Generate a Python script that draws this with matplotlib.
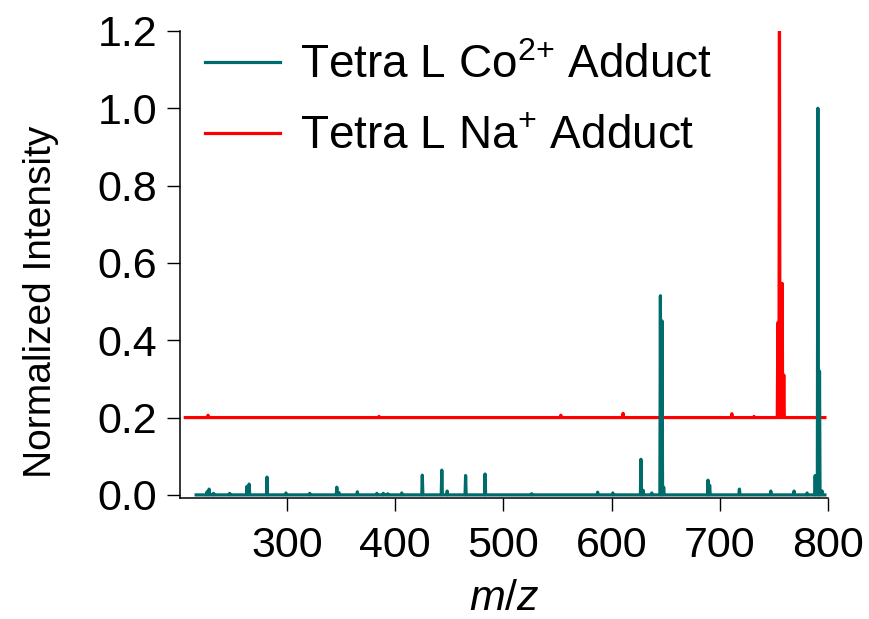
import numpy as np
import matplotlib
matplotlib.use("Agg")
import matplotlib.pyplot as plt

plt.rcParams["font.family"] = ["Liberation Sans", "DejaVu Sans"]
plt.rcParams["mathtext.fontset"] = "custom"
plt.rcParams["mathtext.rm"] = "Liberation Sans"
plt.rcParams["mathtext.it"] = "Liberation Sans:italic"

# spectrum range (m/z) for each trace
co_range = [216, 797]
na_range = [206, 797]

# Tetra L Co2+ adduct peaks (m/z, normalized intensity)
co_peak_mz = [226, 228, 232, 247, 263, 265, 281.5, 299, 321, 346, 348, 365,
              383, 389, 393, 406, 425, 443, 448, 465, 483, 526, 587, 601,
              627, 629, 637, 645, 646.5, 648, 689, 690.5, 718, 747, 768.5,
              780.5, 788, 790.5, 792, 794.5]
co_peak_int = [0.008, 0.015, 0.004, 0.004, 0.022, 0.028, 0.046, 0.005, 0.004,
               0.020, 0.006, 0.008, 0.004, 0.004, 0.003, 0.005, 0.051, 0.064,
               0.010, 0.050, 0.054, 0.003, 0.007, 0.005, 0.092, 0.012, 0.005,
               0.515, 0.45, 0.02, 0.038, 0.025, 0.015, 0.010, 0.010, 0.005,
               0.05, 1.0, 0.32, 0.01]

# Tetra L Na+ adduct peaks (plotted with a 0.2 offset)
na_offset = 0.2
na_peak_mz = [227, 385, 553, 610.5, 711, 731.5, 753.5, 755, 757.5, 759]
na_peak_int = [0.006, 0.003, 0.006, 0.011, 0.010, 0.003, 0.245, 1.0, 0.347,
               0.11]


# Turn a peak list into a profile line with a flat baseline
def build_profile(rng, mz, inten, hw=0.5):
    xs = [rng[0]]
    ys = [0.0]
    for c, h in zip(mz, inten):
        xs += [c - hw, c, c + hw]
        ys += [0.0, h, 0.0]
    xs.append(rng[1])
    ys.append(0.0)
    return np.array(xs), np.array(ys)


co_x, co_y = build_profile(co_range, co_peak_mz, co_peak_int)
na_x, na_y = build_profile(na_range, na_peak_mz, na_peak_int)

fig = plt.figure(figsize=(8.69, 6.19), dpi=100)
ax = fig.add_axes([0.207, 0.1955, 0.746, 0.7545])

ax.plot(co_x, co_y, color="#006b6b", lw=2.3, zorder=3,
        label=r"Tetra L Co$^{2{+}}$ Adduct")
ax.plot(na_x, na_y + na_offset, color="#ff0000", lw=2.3, zorder=2,
        label=r"Tetra L Na$^{+}$ Adduct")

ax.set_xlim(201, 800)
ax.set_ylim(-0.008, 1.2)
ax.set_xticks([300, 400, 500, 600, 700, 800])
ax.set_yticks([0.0, 0.2, 0.4, 0.6, 0.8, 1.0, 1.2])
ax.set_yticklabels(["0.0", "0.2", "0.4", "0.6", "0.8", "1.0", "1.2"])

for s in ["top", "right"]:
    ax.spines[s].set_visible(False)
for s in ["left", "bottom"]:
    ax.spines[s].set_linewidth(1.1)
ax.tick_params(direction="out", length=9.5, width=1.0, labelsize=31)
ax.tick_params(axis="x", pad=11)
ax.tick_params(axis="y", pad=7)

ax.set_xlabel(r"$m/z$", fontsize=31, labelpad=9)
ax.set_ylabel("Normalized Intensity", fontsize=28)
ax.yaxis.set_label_coords(-0.187, 0.42)

ax.legend(loc="upper left", bbox_to_anchor=(0.01, 1.012), frameon=False,
          fontsize=33, handlelength=1.65, handletextpad=0.42,
          labelspacing=0.6, borderaxespad=0)

fig.savefig("out.png", dpi=100)
